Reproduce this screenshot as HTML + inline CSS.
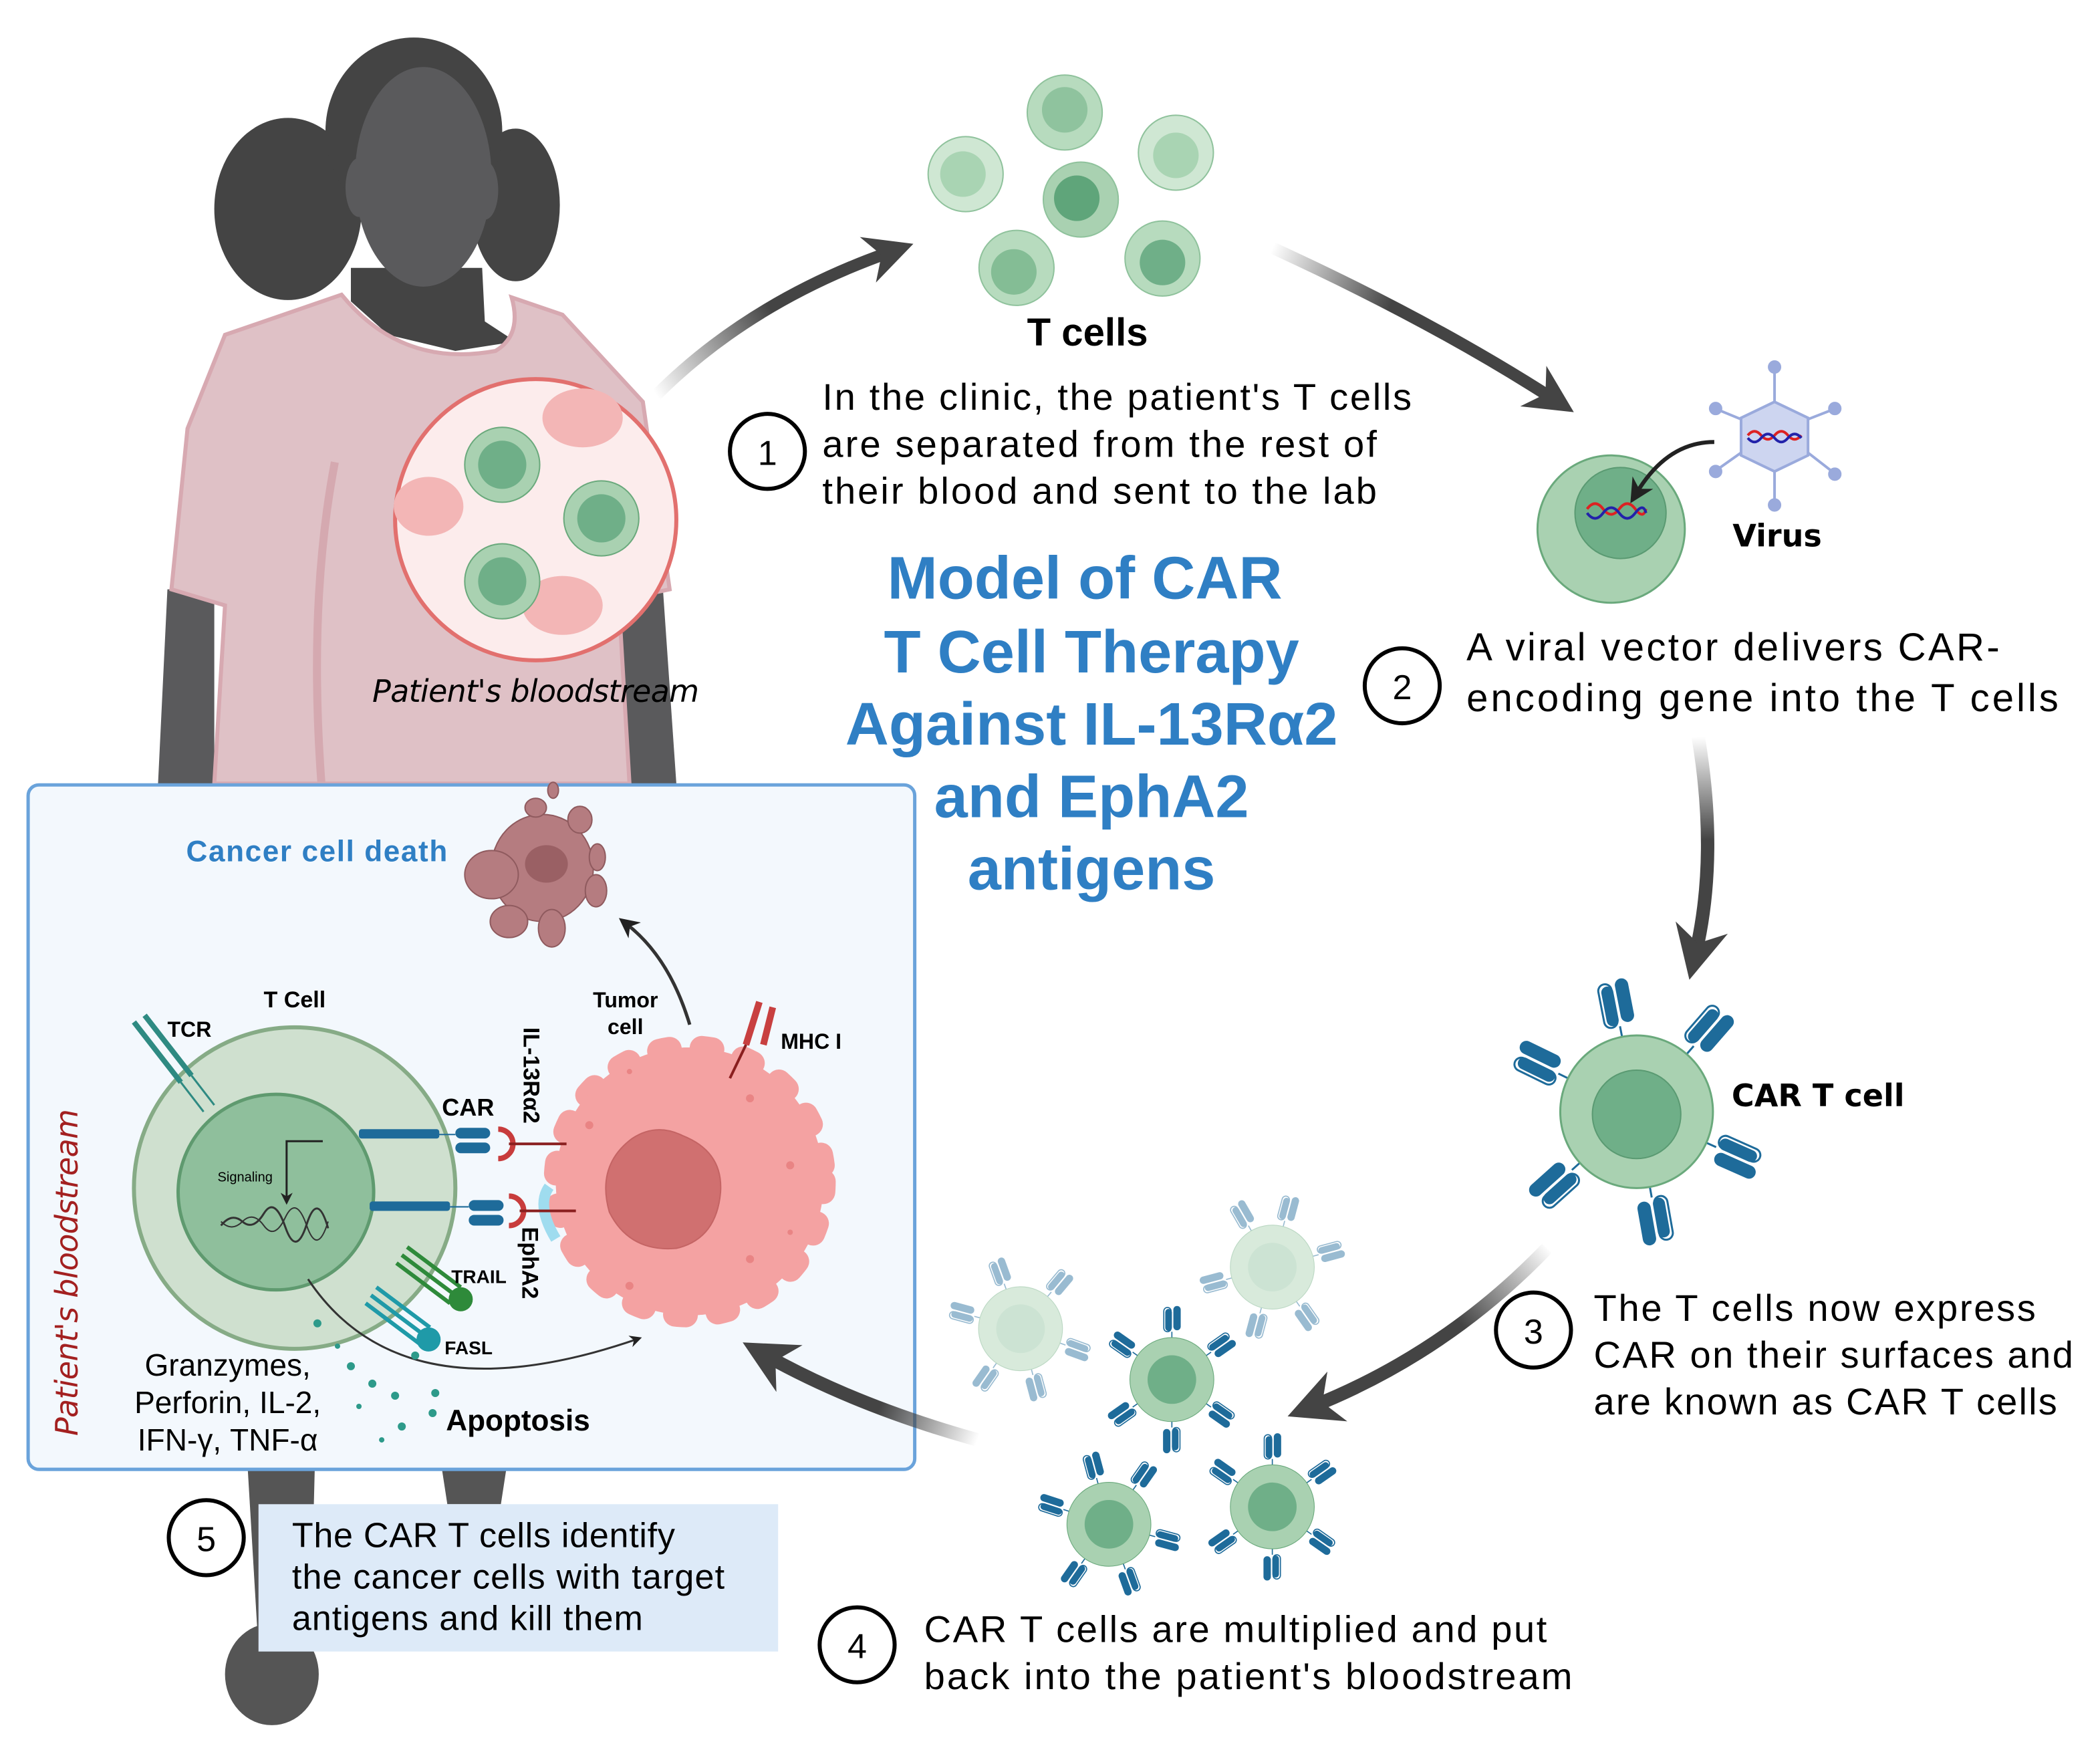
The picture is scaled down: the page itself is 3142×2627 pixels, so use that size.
<!DOCTYPE html>
<html><head><meta charset="utf-8"><style>
html,body{margin:0;padding:0;background:#fff;}
svg{display:block;}
text{font-family:"Liberation Sans",sans-serif;}
.dv{font-family:"DejaVu Sans","Liberation Sans",sans-serif;}
</style></head><body>
<svg width="3142" height="2627" viewBox="0 0 1568 1311" xmlns="http://www.w3.org/2000/svg">
<defs>
<g id="rec">
 <line x1="0" y1="0" x2="0" y2="-9" stroke="#1e6b9a" stroke-width="1.5"/>
 <rect x="-11" y="-42" width="10" height="33" rx="5" fill="#fff" stroke="#1e6b9a" stroke-width="1.5"/>
 <rect x="-9" y="-40" width="9" height="30" rx="4.5" fill="#1e6b9a"/>
 <rect x="2" y="-44" width="10" height="33" rx="5" fill="#1e6b9a"/>
</g>
<marker id="ah" viewBox="0 0 10 10" refX="5" refY="5" markerWidth="4" markerHeight="4" orient="auto"><path d="M0,0 L10,5 L0,10 L3,5 z" fill="#444"/></marker>
<marker id="ahs" viewBox="0 0 10 10" refX="5" refY="5" markerWidth="6" markerHeight="6" orient="auto"><path d="M0,0 L10,5 L0,10 L3,5 z" fill="#222"/></marker>
<linearGradient id="g1" gradientUnits="userSpaceOnUse" x1="490" y1="295" x2="640" y2="200"><stop offset="0" stop-color="#444" stop-opacity="0"/><stop offset="0.6" stop-color="#444"/></linearGradient>
<linearGradient id="g2" gradientUnits="userSpaceOnUse" x1="950" y1="185" x2="1100" y2="250"><stop offset="0" stop-color="#444" stop-opacity="0"/><stop offset="0.6" stop-color="#444"/></linearGradient>
<linearGradient id="g3" gradientUnits="userSpaceOnUse" x1="1268" y1="550" x2="1268" y2="660"><stop offset="0" stop-color="#444" stop-opacity="0"/><stop offset="0.7" stop-color="#444"/></linearGradient>
<linearGradient id="g4" gradientUnits="userSpaceOnUse" x1="1155" y1="930" x2="1060" y2="1010"><stop offset="0" stop-color="#444" stop-opacity="0"/><stop offset="0.7" stop-color="#444"/></linearGradient>
<linearGradient id="g5" gradientUnits="userSpaceOnUse" x1="730" y1="1075" x2="640" y2="1040"><stop offset="0" stop-color="#444" stop-opacity="0"/><stop offset="0.8" stop-color="#444"/></linearGradient>
</defs>

<!-- woman -->
<g>
 <ellipse cx="215" cy="156" rx="55" ry="68" fill="#444"/>
 <ellipse cx="385" cy="153" rx="33" ry="57" fill="#444"/>
 <ellipse cx="309" cy="98" rx="66" ry="70" fill="#444"/>
 <path d="M262,200 L360,200 L362,240 L385,255 L340,262 L290,250 L262,225 Z" fill="#444"/>
 <ellipse cx="316" cy="132" rx="51" ry="82" fill="#5a5a5c"/>
 <ellipse cx="268" cy="140" rx="10" ry="22" fill="#5a5a5c"/>
 <ellipse cx="362" cy="142" rx="10" ry="22" fill="#5a5a5c"/>
 <path d="M160,440 L125,440 L118,585 L160,585 Z" fill="#5a5a5c"/>
 <path d="M460,440 L495,440 L505,585 L460,585 Z" fill="#5a5a5c"/>
 <path d="M255,220 Q300,275 370,262 Q390,250 382,222 L420,235 L480,300 L500,440 L462,448 L470,585 L160,585 L168,452 L128,440 L140,320 L168,250 Z" fill="#dfc1c6" stroke="#d7a9b1" stroke-width="3"/>
 <path d="M250,345 Q230,450 240,585" fill="none" stroke="#d5a9b0" stroke-width="6"/>
 <path d="M185,1097 L235,1097 L232,1215 L192,1215 Z" fill="#555"/>
 <path d="M330,1097 L378,1097 L374,1123 L334,1123 Z" fill="#555"/>
 <ellipse cx="203" cy="1250" rx="35" ry="38" fill="#555"/>
</g>

<!-- bloodstream circle -->
<circle cx="400" cy="388" r="105" fill="#fcecec" stroke="#e2706e" stroke-width="3"/>
<ellipse cx="435" cy="312" rx="30" ry="22" fill="#f3b6b6"/>
<ellipse cx="320" cy="378" rx="26" ry="22" fill="#f3b6b6"/>
<ellipse cx="420" cy="452" rx="30" ry="22" fill="#f3b6b6"/>
<g fill="#a9d1b1" stroke="#6aa97c" stroke-width="1"><circle cx="375" cy="347" r="28"/><circle cx="449" cy="387" r="28"/><circle cx="375" cy="434" r="28"/></g>
<g fill="#6faf88"><circle cx="375" cy="347" r="18"/><circle cx="449" cy="387" r="18"/><circle cx="375" cy="434" r="18"/></g>
<text x="278" y="524" font-size="23" font-style="italic" class="dv" textLength="244">Patient's bloodstream</text>

<!-- arrow 1 -->
<path d="M490,295 Q560,225 665,188" fill="none" stroke="url(#g1)" stroke-width="9" marker-end="url(#ah)"/>

<!-- T cells cluster -->
<g stroke="#8fc29c" stroke-width="1">
<circle cx="795" cy="84" r="28" fill="#b7dbbe"/><circle cx="721" cy="130" r="28" fill="#cfe7d3"/>
<circle cx="878" cy="114" r="28" fill="#cfe7d3"/><circle cx="807" cy="149" r="28" fill="#a9d1b1"/>
<circle cx="759" cy="200" r="28" fill="#b7dbbe"/><circle cx="868" cy="193" r="28" fill="#b7dbbe"/>
</g>
<g><circle cx="795" cy="82" r="17" fill="#8fc39e"/><circle cx="719" cy="130" r="17" fill="#a9d4b3"/>
<circle cx="878" cy="116" r="17" fill="#a9d4b3"/><circle cx="804" cy="148" r="17" fill="#5fa57a"/>
<circle cx="757" cy="203" r="17" fill="#84bd95"/><circle cx="868" cy="196" r="17" fill="#6faf88"/></g>
<text x="812" y="258" font-size="29" font-weight="bold" text-anchor="middle">T cells</text>

<!-- step 1 -->
<circle cx="573" cy="337" r="28" fill="#fff" stroke="#000" stroke-width="3"/>
<text x="573" y="347" font-size="26" text-anchor="middle">1</text>
<g font-size="28"><text x="614" y="306" textLength="440">In the clinic, the patient's T cells</text>
<text x="614" y="341" textLength="414">are separated from the rest of</text>
<text x="614" y="376" textLength="414">their blood and sent to the lab</text></g>

<!-- arrow 2 -->
<path d="M950,185 Q1070,240 1160,298" fill="none" stroke="url(#g2)" stroke-width="9" marker-end="url(#ah)"/>

<!-- virus & cell -->
<circle cx="1203" cy="395" r="55" fill="#a9d1b1" stroke="#6aa97c" stroke-width="1.5"/>
<circle cx="1210" cy="383" r="34" fill="#6faf88" stroke="#5a9a72"/>
<path d="M1185,380 q6,-8 12,0 t12,0 t12,0 t8,0" fill="none" stroke="#d22" stroke-width="2"/>
<path d="M1185,383 q6,8 12,0 t12,0 t12,0 t8,0" fill="none" stroke="#22a" stroke-width="2"/>
<path d="M1280,330 Q1245,330 1222,368" fill="none" stroke="#222" stroke-width="3" marker-end="url(#ahs)"/>
<g stroke="#9aaadc" stroke-width="2" fill="#9aaadc">
<line x1="1325" y1="300" x2="1325" y2="275"/><line x1="1325" y1="350" x2="1325" y2="375"/>
<line x1="1300" y1="313" x2="1283" y2="306"/><line x1="1350" y1="313" x2="1368" y2="306"/>
<line x1="1300" y1="338" x2="1283" y2="350"/><line x1="1350" y1="338" x2="1368" y2="352"/>
<circle cx="1325" cy="274" r="4"/><circle cx="1325" cy="377" r="4"/><circle cx="1281" cy="305" r="4"/><circle cx="1370" cy="305" r="4"/><circle cx="1281" cy="352" r="4"/><circle cx="1370" cy="354" r="4"/>
</g>
<polygon points="1325,300 1350,312 1350,340 1325,352 1300,340 1300,312" fill="#cdd5f0" stroke="#9aaadc" stroke-width="2"/>
<path d="M1305,325 q5,-6 10,0 t10,0 t10,0 t10,0" fill="none" stroke="#d22" stroke-width="2"/>
<path d="M1305,327 q5,6 10,0 t10,0 t10,0 t10,0" fill="none" stroke="#22a" stroke-width="2"/>
<text x="1327" y="408" font-size="23" font-weight="bold" text-anchor="middle" class="dv">Virus</text>

<!-- step 2 -->
<circle cx="1047" cy="512" r="28" fill="#fff" stroke="#000" stroke-width="3"/>
<text x="1047" y="522" font-size="26" text-anchor="middle">2</text>
<g font-size="29" class="dv"><text x="1095" y="493" textLength="398">A viral vector delivers CAR-</text>
<text x="1095" y="531" textLength="442">encoding gene into the T cells</text></g>

<!-- title -->
<g font-size="45" font-weight="bold" fill="#2f7fc4" text-anchor="middle">
<text x="810" y="447">Model of CAR</text>
<text x="815" y="502">T Cell Therapy</text>
<text x="815" y="556">Against IL-13Rα2</text>
<text x="815" y="610">and EphA2</text>
<text x="815" y="664">antigens</text>
</g>

<!-- arrow 3 -->
<path d="M1268,550 Q1283,640 1266,712" fill="none" stroke="url(#g3)" stroke-width="10" marker-end="url(#ah)"/>

<!-- CAR T cell -->
<g transform="translate(1222,830)">
<use href="#rec" transform="rotate(-11) translate(0,-56)"/>
<use href="#rec" transform="rotate(41) translate(0,-56)"/>
<use href="#rec" transform="rotate(114) translate(0,-56)"/>
<use href="#rec" transform="rotate(170) translate(0,-56)"/>
<use href="#rec" transform="rotate(228) translate(0,-56)"/>
<use href="#rec" transform="rotate(-64) translate(0,-56)"/>
<circle r="57" fill="#a9d1b1" stroke="#6aa97c" stroke-width="1.5"/>
<circle cx="0" cy="2" r="33" fill="#6faf88" stroke="#5a9a72"/>
</g>
<text x="1293" y="826" font-size="23" font-weight="bold" class="dv">CAR T cell</text>

<!-- arrow 4 -->
<path d="M1155,932 Q1080,1010 980,1050" fill="none" stroke="url(#g4)" stroke-width="10" marker-end="url(#ah)"/>

<!-- step 3 -->
<circle cx="1145" cy="993" r="28" fill="#fff" stroke="#000" stroke-width="3"/>
<text x="1145" y="1003" font-size="26" text-anchor="middle">3</text>
<g font-size="28"><text x="1190" y="986" textLength="330">The T cells now express</text>
<text x="1190" y="1021" textLength="358">CAR on their surfaces and</text>
<text x="1190" y="1056" textLength="346">are known as CAR T cells</text></g>

<!-- multiplied cells -->
<g transform="translate(762,992) scale(0.55)" opacity="0.45">
<use href="#rec" transform="rotate(-20) translate(0,-56)"/><use href="#rec" transform="rotate(40) translate(0,-56)"/><use href="#rec" transform="rotate(110) translate(0,-56)"/><use href="#rec" transform="rotate(165) translate(0,-56)"/><use href="#rec" transform="rotate(215) translate(0,-56)"/><use href="#rec" transform="rotate(-75) translate(0,-56)"/>
<circle r="57" fill="#a9d1b1" stroke="#6aa97c"/><circle r="33" fill="#8fc39e"/></g>
<g transform="translate(950,946) scale(0.55)" opacity="0.45">
<use href="#rec" transform="rotate(-30) translate(0,-56)"/><use href="#rec" transform="rotate(15) translate(0,-56)"/><use href="#rec" transform="rotate(75) translate(0,-56)"/><use href="#rec" transform="rotate(145) translate(0,-56)"/><use href="#rec" transform="rotate(195) translate(0,-56)"/><use href="#rec" transform="rotate(255) translate(0,-56)"/>
<circle r="57" fill="#a9d1b1" stroke="#6aa97c"/><circle r="33" fill="#8fc39e"/></g>
<g transform="translate(875,1030) scale(0.55)">
<use href="#rec" transform="rotate(0) translate(0,-56)"/><use href="#rec" transform="rotate(55) translate(0,-56)"/><use href="#rec" transform="rotate(125) translate(0,-56)"/><use href="#rec" transform="rotate(180) translate(0,-56)"/><use href="#rec" transform="rotate(235) translate(0,-56)"/><use href="#rec" transform="rotate(-55) translate(0,-56)"/>
<circle r="57" fill="#a9d1b1" stroke="#6aa97c"/><circle r="33" fill="#6faf88"/></g>
<g transform="translate(828,1138) scale(0.55)">
<use href="#rec" transform="rotate(-15) translate(0,-56)"/><use href="#rec" transform="rotate(35) translate(0,-56)"/><use href="#rec" transform="rotate(105) translate(0,-56)"/><use href="#rec" transform="rotate(160) translate(0,-56)"/><use href="#rec" transform="rotate(215) translate(0,-56)"/><use href="#rec" transform="rotate(-72) translate(0,-56)"/>
<circle r="57" fill="#a9d1b1" stroke="#6aa97c"/><circle r="33" fill="#6faf88"/></g>
<g transform="translate(950,1125) scale(0.55)">
<use href="#rec" transform="rotate(0) translate(0,-56)"/><use href="#rec" transform="rotate(55) translate(0,-56)"/><use href="#rec" transform="rotate(125) translate(0,-56)"/><use href="#rec" transform="rotate(180) translate(0,-56)"/><use href="#rec" transform="rotate(235) translate(0,-56)"/><use href="#rec" transform="rotate(-55) translate(0,-56)"/>
<circle r="57" fill="#a9d1b1" stroke="#6aa97c"/><circle r="33" fill="#6faf88"/></g>

<!-- step 4 -->
<circle cx="640" cy="1228" r="28" fill="#fff" stroke="#000" stroke-width="3"/>
<text x="640" y="1238" font-size="26" text-anchor="middle">4</text>
<g font-size="28"><text x="690" y="1226" textLength="465">CAR T cells are multiplied and put</text>
<text x="690" y="1261" textLength="484">back into the patient's bloodstream</text></g>

<!-- inset box -->
<rect x="21" y="586" width="662" height="511" rx="8" fill="#f3f8fd" stroke="#6aa3db" stroke-width="2.5"/>
<!-- arrow 5 -->
<path d="M730,1075 Q640,1050 572,1012" fill="none" stroke="url(#g5)" stroke-width="10" marker-end="url(#ah)"/>

<text x="58" y="1072" font-size="23" font-style="italic" fill="#a32020" transform="rotate(-90 58 1072)" textLength="244" class="dv">Patient's bloodstream</text>
<text x="139" y="643" font-size="22" font-weight="bold" fill="#2f7fc4" textLength="195">Cancer cell death</text>
<!-- dead cell -->
<g fill="#b57c80" stroke="#8f5a5e" stroke-width="1">
<ellipse cx="405" cy="648" rx="38" ry="40"/><ellipse cx="367" cy="653" rx="20" ry="18"/><ellipse cx="380" cy="688" rx="14" ry="12"/>
<ellipse cx="412" cy="693" rx="10" ry="14"/><ellipse cx="445" cy="665" rx="8" ry="12"/><ellipse cx="433" cy="612" rx="9" ry="10"/>
<ellipse cx="400" cy="603" rx="8" ry="7"/><ellipse cx="446" cy="640" rx="6" ry="10"/><ellipse cx="413" cy="590" rx="4" ry="6"/>
</g>
<ellipse cx="408" cy="645" rx="16" ry="14" fill="#9a6064"/>
<path d="M515,765 Q500,715 468,690" fill="none" stroke="#333" stroke-width="2.5" marker-end="url(#ahs)"/>

<!-- T cell -->
<text x="220" y="752" font-size="17" font-weight="bold" text-anchor="middle">T Cell</text>
<circle cx="220" cy="887" r="120" fill="#cfe0cf" stroke="#86ab86" stroke-width="3"/>
<circle cx="206" cy="890" r="73" fill="#8fbf9c" stroke="#5f9a6f" stroke-width="2.5"/>
<text x="183" y="882" font-size="10" text-anchor="middle">Signaling</text>
<path d="M241,852 L214,852 L214,895" fill="none" stroke="#222" stroke-width="1.5" marker-end="url(#ahs)"/>
<path d="M165,915 q8,-10 16,-3 t16,-6 t16,10 t16,-2 t16,3" fill="none" stroke="#333" stroke-width="1.5"/>
<path d="M165,912 q8,8 16,0 t16,3 t16,-6 t16,6 t16,-3" fill="none" stroke="#333" stroke-width="1"/>
<!-- TCR -->
<g stroke="#2e8a82" stroke-width="4"><line x1="100" y1="763" x2="135" y2="808"/><line x1="108" y1="758" x2="143" y2="803"/></g>
<g stroke="#2e8a82" stroke-width="1.5"><line x1="135" y1="808" x2="152" y2="830"/><line x1="143" y1="803" x2="160" y2="825"/></g>
<text x="125" y="774" font-size="16" font-weight="bold">TCR</text>
<!-- CAR receptors -->
<g fill="#1e6b9a"><rect x="268" y="843" width="60" height="7" rx="2"/><rect x="340" y="842" width="26" height="8" rx="4"/><rect x="340" y="853" width="26" height="8" rx="4"/>
<rect x="276" y="897" width="60" height="7" rx="2"/><rect x="350" y="896" width="26" height="8" rx="4"/><rect x="350" y="907" width="26" height="8" rx="4"/></g>
<line x1="326" y1="847" x2="340" y2="847" stroke="#1e6b9a"/><line x1="336" y1="901" x2="350" y2="901" stroke="#1e6b9a"/>
<text x="330" y="833" font-size="18" font-weight="bold">CAR</text>
<!-- tumor cell -->
<circle cx="515" cy="882" r="100" fill="#f4a2a2" stroke="#f4a2a2" stroke-width="18" stroke-dasharray="8 24" stroke-linecap="round"/>
<circle cx="515" cy="882" r="100" fill="#f4a2a2"/>
<path d="M472,850 Q490,838 510,848 Q540,860 538,890 Q535,925 505,932 Q470,935 455,905 Q445,870 472,850 Z" fill="#d07070" stroke="#c46464"/>
<g fill="#e98484"><circle cx="560" cy="820" r="3"/><circle cx="470" cy="800" r="2"/><circle cx="590" cy="870" r="3"/><circle cx="560" cy="940" r="3"/><circle cx="470" cy="960" r="3"/><circle cx="440" cy="840" r="3"/><circle cx="590" cy="920" r="2"/></g>
<path d="M410,886 Q400,900 415,925" fill="none" stroke="#9fdcef" stroke-width="8"/>
<!-- antigens -->
<path d="M372,843 a10,10 0 0 1 0,22" fill="none" stroke="#c83c3c" stroke-width="4"/>
<line x1="380" y1="854" x2="423" y2="854" stroke="#8a1f1f" stroke-width="2"/>
<path d="M380,893 a10,10 0 0 1 0,22" fill="none" stroke="#c83c3c" stroke-width="4"/>
<line x1="388" y1="904" x2="430" y2="904" stroke="#8a1f1f" stroke-width="2"/>
<text x="391" y="767" font-size="17" font-weight="bold" transform="rotate(90 391 767)">IL-13Rα2</text>
<text x="390" y="916" font-size="17" font-weight="bold" transform="rotate(90 390 916)">EphA2</text>
<text x="467" y="752" font-size="16" font-weight="bold" text-anchor="middle">Tumor</text>
<text x="467" y="772" font-size="16" font-weight="bold" text-anchor="middle">cell</text>
<!-- MHC -->
<g stroke="#c84040" stroke-width="5"><line x1="567" y1="748" x2="557" y2="780"/><line x1="577" y1="752" x2="570" y2="780"/></g>
<line x1="557" y1="780" x2="545" y2="805" stroke="#8a1f1f" stroke-width="2"/>
<text x="583" y="783" font-size="16" font-weight="bold">MHC I</text>
<!-- TRAIL / FASL -->
<g stroke="#2e8a3a" stroke-width="3"><line x1="300" y1="937" x2="340" y2="967"/><line x1="296" y1="943" x2="336" y2="973"/><line x1="304" y1="931" x2="344" y2="961"/></g>
<circle cx="344" cy="970" r="9" fill="#2e8a3a"/>
<text x="337" y="958" font-size="14" font-weight="bold">TRAIL</text>
<g stroke="#1f9aa8" stroke-width="3"><line x1="277" y1="967" x2="317" y2="997"/><line x1="273" y1="973" x2="313" y2="1003"/><line x1="281" y1="961" x2="321" y2="991"/></g>
<circle cx="320" cy="1000" r="9" fill="#1f9aa8"/>
<text x="332" y="1011" font-size="14" font-weight="bold">FASL</text>
<path d="M230,955 Q300,1060 475,1000" fill="none" stroke="#333" stroke-width="1.5" marker-end="url(#ahs)"/>
<g fill="#2d9a8a"><circle cx="237" cy="988" r="3"/><circle cx="262" cy="1020" r="3"/><circle cx="278" cy="1033" r="3"/><circle cx="295" cy="1042" r="3"/><circle cx="300" cy="1065" r="3"/><circle cx="323" cy="1055" r="3"/><circle cx="310" cy="1012" r="3"/><circle cx="252" cy="1005" r="2"/><circle cx="268" cy="1050" r="2"/><circle cx="285" cy="1075" r="2"/><circle cx="325" cy="1040" r="3"/></g>
<g font-size="23" text-anchor="middle"><text x="170" y="1027">Granzymes,</text><text x="170" y="1055">Perforin, IL-2,</text><text x="170" y="1083">IFN-γ, TNF-α</text></g>
<text x="333" y="1068" font-size="22" font-weight="bold">Apoptosis</text>

<!-- step 5 -->
<rect x="193" y="1123" width="388" height="110" fill="#ddeaf8"/>
<circle cx="154" cy="1148" r="28" fill="#fff" stroke="#000" stroke-width="3"/>
<text x="154" y="1158" font-size="26" text-anchor="middle">5</text>
<g font-size="26"><text x="218" y="1155" textLength="286">The CAR T cells identify</text>
<text x="218" y="1186" textLength="323">the cancer cells with target</text>
<text x="218" y="1217" textLength="262">antigens and kill them</text></g>
</svg>
</body></html>
